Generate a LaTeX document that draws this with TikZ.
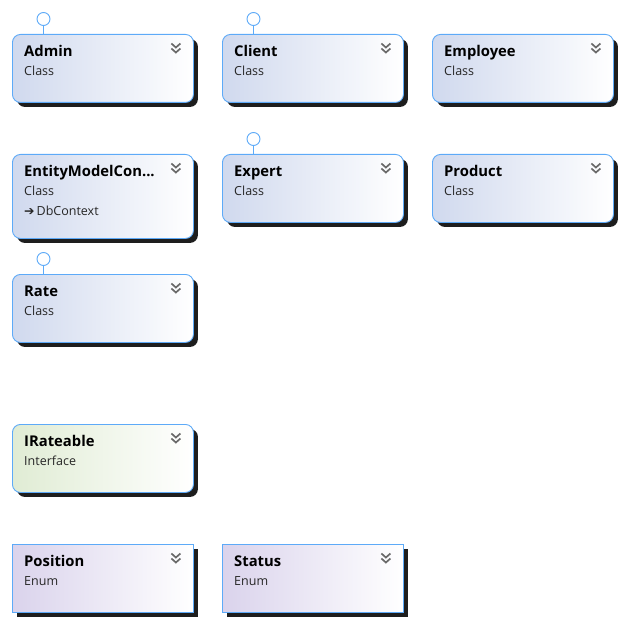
\documentclass[tikz,border=0pt]{standalone}
\usepackage{fontspec}
\setmainfont{Open Sans}
\usetikzlibrary{calc,shadows}
\definecolor{bordc}{HTML}{5DAAF8}
\definecolor{clsl}{HTML}{D0D9EE}
\definecolor{intl}{HTML}{E0ECD4}
\definecolor{enml}{HTML}{DAD3EC}
\definecolor{shad}{HTML}{1E1E1E}
\definecolor{chev}{HTML}{6A6A6A}
\tikzset{
  boxbase/.style={draw=bordc, line width=0.9pt, anchor=north west, minimum width=181pt, minimum height=68pt, inner sep=0pt, right color=white, shading angle=90,
    drop shadow={shadow xshift=4.5pt, shadow yshift=-4.5pt, fill=shad, opacity=1}},
  clsbox/.style={boxbase, rounded corners=8pt, left color=clsl},
  intbox/.style={boxbase, rounded corners=8pt, left color=intl},
  enmbox/.style={boxbase, left color=enml},
  ttl/.style={anchor=base west, inner sep=0pt, font=\fontsize{14.8}{17}\selectfont\bfseries},
  knd/.style={anchor=base west, inner sep=0pt, font=\fontsize{12.5}{14}\selectfont, text=black!85},
  lolly/.style={circle, draw=bordc, line width=0.9pt, fill=white, minimum size=13pt, inner sep=0pt},
  stem/.style={draw=bordc, line width=0.9pt},
  chevline/.style={draw=chev, line width=1.7pt},
}
\newcommand\chevmark[1]{%
  \draw[chevline] ($(#1.north east)+(-22.5,9.5)$) -- ++(4.5,4) -- ++(4.5,-4);
  \draw[chevline] ($(#1.north east)+(-22.5,14.5)$) -- ++(4.5,4) -- ++(4.5,-4);
}
\begin{document}
\begin{tikzpicture}[x=1pt,y=-1pt]
\useasboundingbox (0,0) rectangle (624,623);
% row 1
\node[clsbox] (admin) at (12,34) {};
\node[ttl] (admint) at ($(admin.north west)+(12,22.5)$) {Admin};
\node[knd] (admink) at ($(admin.north west)+(12,41.5)$) {Class};
\chevmark{admin}
\node[clsbox] (client) at (222,34) {};
\node[ttl] (clientt) at ($(client.north west)+(12,22.5)$) {Client};
\node[knd] (clientk) at ($(client.north west)+(12,41.5)$) {Class};
\chevmark{client}
\node[clsbox] (employee) at (432,34) {};
\node[ttl] (employeet) at ($(employee.north west)+(12,22.5)$) {Employee};
\node[knd] (employeek) at ($(employee.north west)+(12,41.5)$) {Class};
\chevmark{employee}
% row 2
\node[clsbox, minimum height=84pt] (entity) at (12,154) {};
\node[ttl] (entityt) at ($(entity.north west)+(12,22.5)$) {EntityModelCon...};
\node[knd] (entityk) at ($(entity.north west)+(12,41.5)$) {Class};
\node[knd] (entityb) at ($(entity.north west)+(12,61.5)$) {\fontspec{DejaVu Sans}\fontsize{12.5}{14}\selectfont\raisebox{0.3pt}{➔}\hspace{2pt}\fontspec{Open Sans}\fontsize{12.5}{14}\selectfont DbContext};
\chevmark{entity}
\node[clsbox] (expert) at (222,154) {};
\node[ttl] (expertt) at ($(expert.north west)+(12,22.5)$) {Expert};
\node[knd] (expertk) at ($(expert.north west)+(12,41.5)$) {Class};
\chevmark{expert}
\node[clsbox] (product) at (432,154) {};
\node[ttl] (productt) at ($(product.north west)+(12,22.5)$) {Product};
\node[knd] (productk) at ($(product.north west)+(12,41.5)$) {Class};
\chevmark{product}
% row 3
\node[clsbox] (rate) at (12,274) {};
\node[ttl] (ratet) at ($(rate.north west)+(12,22.5)$) {Rate};
\node[knd] (ratek) at ($(rate.north west)+(12,41.5)$) {Class};
\chevmark{rate}
% interface
\node[intbox] (irate) at (12,424) {};
\node[ttl] (iratet) at ($(irate.north west)+(12,22.5)$) {IRateable};
\node[knd] (iratek) at ($(irate.north west)+(12,41.5)$) {Interface};
\chevmark{irate}
% enums
\node[enmbox] (position) at (12,544) {};
\node[ttl] (positiont) at ($(position.north west)+(12,22.5)$) {Position};
\node[knd] (positionk) at ($(position.north west)+(12,41.5)$) {Enum};
\chevmark{position}
\node[enmbox] (status) at (222,544) {};
\node[ttl] (statust) at ($(status.north west)+(12,22.5)$) {Status};
\node[knd] (statusk) at ($(status.north west)+(12,41.5)$) {Enum};
\chevmark{status}
% lollipops
\node[lolly] (adminl) at (43.5,19) {};
\draw[stem] (adminl) -- (adminl |- admin.north);
\node[lolly] (clientl) at (253.5,19) {};
\draw[stem] (clientl) -- (clientl |- client.north);
\node[lolly] (expertl) at (253.5,139) {};
\draw[stem] (expertl) -- (expertl |- expert.north);
\node[lolly] (ratel) at (43.5,259) {};
\draw[stem] (ratel) -- (ratel |- rate.north);
\end{tikzpicture}
\end{document}
